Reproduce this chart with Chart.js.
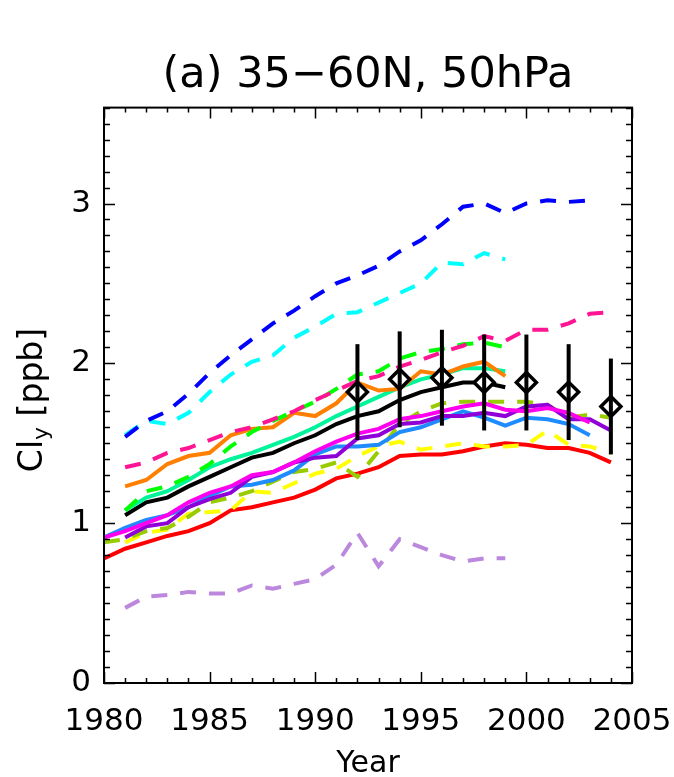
<!DOCTYPE html>
<html><head><meta charset="utf-8">
<script src="https://cdn.jsdelivr.net/npm/chart.js@4.4.1/dist/chart.umd.min.js"></script>
<style>html,body{margin:0;padding:0;background:#fff}canvas{display:block}</style>
</head><body>
<canvas id="c" width="674" height="777"></canvas>
<script>
// ---- data (index 0 = 1980) ----
const years = [1980,1981,1982,1983,1984,1985,1986,1987,1988,1989,1990,1991,1992,1993,1994,1995,1996,1997,1998,1999,2000,2001,2002,2003,2004];
const blueDash   = [null,1.54,1.64,1.70,1.81,1.94,2.05,2.15,2.25,2.33,2.42,2.50,2.55,2.61,2.70,2.77,2.87,2.98,3.00,2.94,3.00,3.02,3.01,3.02,null];
const cyanDash   = [null,1.55,1.64,1.62,1.69,1.82,1.93,2.01,2.05,2.16,2.23,2.31,2.32,2.38,2.44,2.50,2.63,2.62,2.69,2.65,null,null,null,null,null];
const pinkDash   = [null,1.35,1.38,1.44,1.47,1.52,1.57,1.60,1.65,1.70,1.77,1.83,1.89,1.92,1.98,2.02,2.07,2.11,2.17,2.14,2.21,2.21,2.25,2.31,2.32];
const greenDash  = [null,1.08,1.20,1.23,1.29,1.37,1.48,1.57,1.64,1.70,1.76,1.84,1.93,1.95,2.03,2.07,2.09,2.12,2.13,2.10,null,null,null,null,null];
const orangeLine = [null,1.23,1.27,1.37,1.42,1.44,1.55,1.59,1.60,1.69,1.67,1.75,1.88,1.83,1.84,1.95,1.93,1.98,2.01,1.92,null,null,null,null,null];
const aquaLine   = [null,1.08,1.16,1.20,1.27,1.35,1.40,1.44,1.49,1.54,1.60,1.67,1.73,1.79,1.85,1.90,1.93,1.97,1.97,1.95,null,null,null,null,null];
const blackLine  = [null,1.05,1.13,1.16,1.23,1.29,1.35,1.41,1.44,1.50,1.55,1.62,1.67,1.70,1.77,1.82,1.85,1.88,1.88,1.85,null,null,null,null,null];
const magentaLine= [0.91,0.95,1.00,1.05,1.13,1.19,1.23,1.30,1.32,1.38,1.45,1.51,1.56,1.59,1.65,1.67,1.70,1.73,1.75,1.71,1.70,1.72,1.69,1.63,null];
const purpleLine = [null,0.91,0.98,1.00,1.10,1.15,1.19,1.29,1.32,1.38,1.41,1.42,1.53,1.55,1.62,1.63,1.67,1.67,1.69,1.67,1.73,1.74,1.65,1.65,1.58];
const dodgerLine = [0.91,0.97,1.02,1.05,1.10,1.17,1.23,1.24,1.27,1.33,1.43,1.48,1.48,1.49,1.57,1.60,1.65,1.70,1.66,1.61,1.66,1.65,1.62,1.55,null];
const ygreenDash = [0.88,0.90,0.95,0.97,1.04,1.13,1.16,1.20,1.26,1.32,1.34,1.38,1.29,1.45,1.62,1.70,1.75,1.76,1.76,1.76,1.76,1.74,1.66,1.68,1.66];
const yellowDash = [null,0.88,0.94,0.96,1.06,1.07,1.08,1.20,1.19,1.25,1.31,1.34,1.42,1.48,1.51,1.46,1.48,1.50,1.48,1.48,1.49,1.58,1.49,1.48,1.44];
const redLine    = [0.78,0.84,0.88,0.92,0.95,1.00,1.08,1.10,1.13,1.16,1.21,1.28,1.31,1.35,1.42,1.43,1.43,1.45,1.48,1.50,1.49,1.47,1.47,1.44,1.38];
const lavDash    = [null,0.47,0.54,0.55,0.57,0.56,0.56,0.61,0.59,0.62,0.65,0.74,0.94,0.73,0.90,0.85,0.80,0.76,0.78,0.78,null,null,null,null,null];

const obsYears = [1992,1994,1996,1998,2000,2002,2004];
const obsMean  = [1.82,1.90,1.91,1.88,1.88,1.82,1.73];
const obsErr   = [0.30,0.30,0.30,0.30,0.30,0.30,0.30];

const xTickLabels = [1980,1985,1990,1995,2000,2005];
const yTickLabels = [0,1,2,3];

const FONT = 'DejaVu Sans';
Chart.defaults.font.family = FONT;
Chart.defaults.color = '#000';

function pts(arr){ return years.map((yr,i)=>({x:yr,y:arr[i]})).filter(p=>p.y!==null); }

const DASH = [16,13];
const series = [
  {data:blueDash,   color:'#0000ff', dashed:true},
  {data:cyanDash,   color:'#00ffff', dashed:true},
  {data:pinkDash,   color:'#ff1493', dashed:true},
  {data:greenDash,  color:'#00ff00', dashed:true},
  {data:orangeLine, color:'#ff8000', dashed:false},
  {data:aquaLine,   color:'#00f59a', dashed:false},
  {data:blackLine,  color:'#000000', dashed:false},
  {data:magentaLine,color:'#ff00ee', dashed:false},
  {data:purpleLine, color:'#8f00d8', dashed:false},
  {data:dodgerLine, color:'#1e8cff', dashed:false},
  {data:ygreenDash, color:'#99cc00', dashed:true},
  {data:yellowDash, color:'#ffff00', dashed:true},
  {data:redLine,    color:'#ff0000', dashed:false},
  {data:lavDash,    color:'#bb88dd', dashed:true}
];

const datasets = [{
  data: obsYears.map((yr,i)=>({x:yr,y:obsMean[i]})),
  showLine:false, pointStyle:'rectRot', pointRadius:10, pointBorderWidth:3.5,
  pointBorderColor:'#000', pointBackgroundColor:'#fff'
}].concat(series.map(s=>({
  data: pts(s.data), borderColor:s.color, borderWidth:4,
  borderDash: s.dashed ? DASH : [], pointRadius:0, fill:false, tension:0
})));

const frame = {
  id:'frame',
  afterDatasetsDraw(chart){
    const {ctx, chartArea:a, scales:{x,y}} = chart;
    ctx.save();
    ctx.strokeStyle = '#000'; ctx.lineWidth = 4; ctx.lineCap = 'butt';
    obsYears.forEach((yr,i)=>{
      const px = x.getPixelForValue(yr);
      ctx.beginPath();
      ctx.moveTo(px, y.getPixelForValue(obsMean[i]-obsErr[i]));
      ctx.lineTo(px, y.getPixelForValue(obsMean[i]+obsErr[i]));
      ctx.stroke();
    });
    ctx.lineWidth = 1.5;
    ctx.beginPath();
    for (let t = x.min; t <= x.max; t++) {
      const px = Math.round(x.getPixelForValue(t)) + 0.5;
      const len = (t % 5 === 0) ? 11 : 5;
      ctx.moveTo(px, a.bottom); ctx.lineTo(px, a.bottom - len);
      ctx.moveTo(px, a.top); ctx.lineTo(px, a.top + len);
    }
    for (let k = 0; k <= Math.round(y.max*10); k++) {
      const py = Math.round(y.getPixelForValue(k/10)) + 0.5;
      const len = (k % 10 === 0) ? 11 : 6;
      ctx.moveTo(a.left, py); ctx.lineTo(a.left + len, py);
      ctx.moveTo(a.right, py); ctx.lineTo(a.right - len, py);
    }
    ctx.stroke();
    ctx.lineWidth = 2;
    ctx.strokeRect(a.left, a.top, a.right - a.left, a.bottom - a.top);
    ctx.restore();
  },
  afterDraw(chart){
    const ctx = chart.ctx;
    ctx.save();
    ctx.translate(33, 400);
    ctx.rotate(-Math.PI/2);
    ctx.fillStyle = '#000';
    ctx.textBaseline = 'middle';
    const big = '33px "' + FONT + '"', small = '22px "' + FONT + '"';
    ctx.font = big; const w1 = ctx.measureText('Cl').width; const w3 = ctx.measureText(' [ppb]').width;
    ctx.font = small; const w2 = ctx.measureText('y').width;
    let xx = -(w1+w2+w3)/2;
    ctx.textAlign = 'left';
    ctx.font = big; ctx.fillText('Cl', xx, 0); xx += w1;
    ctx.font = small; ctx.fillText('y', xx, 9); xx += w2;
    ctx.font = big; ctx.fillText(' [ppb]', xx, 0);
    ctx.restore();
  }
};

new Chart(document.getElementById('c'), {
  type:'line',
  data:{datasets},
  options:{
    responsive:false, animation:false,
    layout:{padding:{left:0,right:42,top:0,bottom:0}},
    plugins:{
      legend:{display:false}, tooltip:{enabled:false},
      title:{display:true, fullSize:false, text:'(a) 35\u221260N, 50hPa', color:'#000',
        font:{family:FONT, size:43, weight:'normal'}, padding:{top:50,bottom:6}}
    },
    scales:{
      x:{type:'linear', min:1980, max:2005,
        grid:{display:false, drawTicks:false}, border:{display:false},
        afterBuildTicks: s => { s.ticks = xTickLabels.map(v=>({value:v})); },
        ticks:{callback:v=>String(v), font:{size:31}, color:'#000', padding:20, maxRotation:0, autoSkip:false},
        title:{display:true, text:'Year', font:{size:30}, color:'#000', padding:{top:0,bottom:-5}},
        afterFit: s => { s.height = 94; s.paddingLeft = 0; s.paddingRight = 0; }
      },
      y:{type:'linear', min:0, max:3.6,
        grid:{display:false, drawTicks:false}, border:{display:false},
        afterBuildTicks: s => { s.ticks = yTickLabels.map(v=>({value:v})); },
        ticks:{callback:v=>String(v), font:{size:31}, color:'#000', padding:13},
        afterFit: s => { s.width = 104; s.paddingTop = 0; s.paddingBottom = 0; }
      }
    }
  },
  plugins:[frame]
});
</script>
</body></html>
